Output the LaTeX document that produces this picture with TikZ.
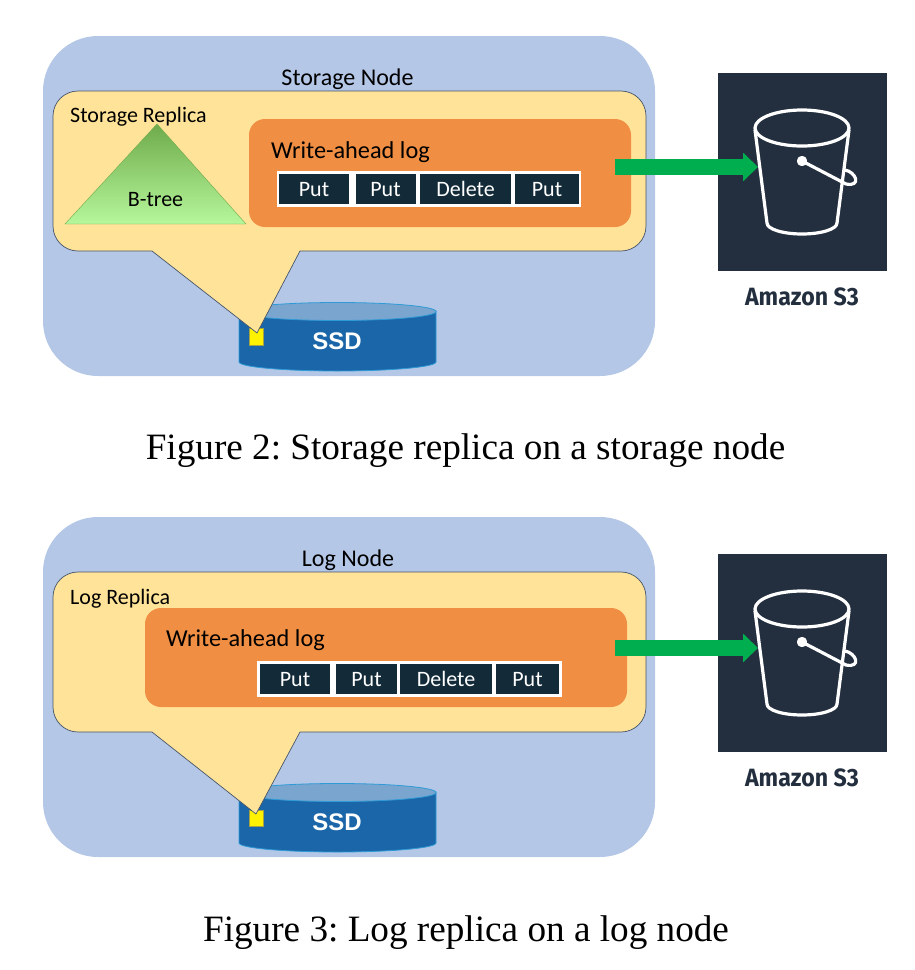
\documentclass[tikz,border=0pt]{standalone}
\usepackage{fontspec}
\setmainfont{Carlito}
\newfontfamily\capfont{Liberation Serif}
\newfontfamily\ssdfont{Liberation Sans}
\newfontfamily\awsfont{Fira Sans}
\usetikzlibrary{arrows.meta}
\definecolor{nodeblue}{HTML}{B4C7E7}
\definecolor{replicayellow}{HTML}{FFE399}
\definecolor{logorange}{HTML}{F08F43}
\definecolor{celldark}{HTML}{132A38}
\definecolor{awsdark}{HTML}{232F3E}
\definecolor{arrowgreen}{HTML}{00AE4F}
\definecolor{ssdblue}{HTML}{1B66A8}
\definecolor{ssdtop}{HTML}{7AA5CE}
\definecolor{ssdedge}{HTML}{2E9BD6}
\definecolor{edgegray}{HTML}{44546A}
\definecolor{treetop}{HTML}{6FAB4C}
\definecolor{treemid}{HTML}{A3DC85}
\definecolor{treebottom}{HTML}{B6F79B}
\tikzset{
    hostbox/.style={fill=nodeblue,rounded corners=55pt,minimum width=612pt,minimum height=340pt,inner sep=0pt},
    replicabox/.style={fill=replicayellow,draw=edgegray,line width=0.7pt,line join=round},
    walbox/.style={fill=logorange,rounded corners=16pt,inner sep=0pt},
    framebox/.style={fill=white,inner sep=0pt,minimum height=36pt},
    cellbox/.style={fill=celldark,text=white,inner sep=0pt,minimum height=30pt,text height=15pt,text depth=1pt,font=\fontsize{22}{24}\selectfont},
    label/.style={inner sep=0pt,text=black,font=\fontsize{22}{24}\selectfont},
    headlabel/.style={inner sep=0pt,text=black,font=\fontsize{24}{26}\selectfont},
    logtitle/.style={inner sep=0pt,text=black,font=\fontsize{24.3}{27}\selectfont},
    s3box/.style={fill=awsdark,minimum width=169pt,minimum height=198pt,inner sep=0pt},
    s3label/.style={inner sep=0pt,text=awsdark,font=\awsfont\bfseries\fontsize{25}{28}\selectfont,xscale=0.925,transform shape},
    bucketline/.style={draw=white,line width=3.2pt,line join=round,line cap=round},
    ssdlabel/.style={inner sep=0pt,text=white,font=\ssdfont\bfseries\fontsize{24}{26}\selectfont},
    pushline/.style={draw=arrowgreen,line width=16pt,-{Triangle[width=28pt,length=15pt,fill=arrowgreen]}},
    caption/.style={inner sep=0pt,font=\capfont\frenchspacing\fontsize{37.2}{40}\selectfont}
}
% #1 is how far down the picture it goes
\newcommand{\drawbucket}[1]{
    \begin{scope}[yshift=#1]
        \draw[bucketline] (802,128) ellipse (47 and 18);
        \draw[bucketline] (755,130) -- (767,223) arc[start angle=180,end angle=0,x radius=35,y radius=11] -- (849,130);
        \draw[bucketline,fill=white] (802,161) circle (3.5);
        \draw[bucketline] (802,161) -- (846,184) .. controls (862,187) and (856,172) .. (845,170);
    \end{scope}
}
\newcommand{\drawssd}[1]{
    \begin{scope}[yshift=#1]
        \draw[fill=ssdblue,draw=ssdedge,line width=0.8pt] (239,311) -- (239,362) arc[start angle=180,end angle=0,x radius=98.5,y radius=9] -- (436,311) -- cycle;
        \draw[fill=ssdtop,draw=ssdedge,line width=0.8pt] (337.5,311.5) ellipse (98.5 and 9);
    \end{scope}
}
% #1 top of the box, #2 its bottom, #3 x and y of the tail's tip
\newcommand{\drawreplica}[3]{
    \draw[replicabox] (78,#1) -- (621,#1) arc[start angle=-90,end angle=0,radius=25]
        -- (646,#2-25) arc[start angle=0,end angle=90,radius=25]
        -- (300,#2) -- (#3) -- (152,#2) -- (78,#2) arc[start angle=90,end angle=180,radius=25]
        -- (53,#1+25) arc[start angle=180,end angle=270,radius=25] -- cycle;
}
\begin{document}
\begin{tikzpicture}[x=1pt,y=-1pt]
    \useasboundingbox (0,0) rectangle (914,970);

    % storage node
    \node[hostbox] (storagehost) at (349,206) {};
    \node[headlabel] (storagetitle) at (347.5,79.5) {Storage Node};
    \drawssd{0pt}
    \node[ssdlabel] (storagessd) at (337,341) {SSD};
    \fill[yellow,draw=yellow!60!black,line width=0.3pt] (249,328) rectangle (263,345);
    \drawreplica{91}{251}{257,333}
    \node[label,anchor=west] (storagereplica) at (70,117) {Storage Replica};
    \shade[top color=treetop,middle color=treemid,bottom color=treebottom,draw=treetop,line width=0.4pt] (157,124) -- (246,224) -- (65,224) -- cycle;
    \node[label] (btree) at (155.5,200) {B-tree};
    \node[walbox,minimum width=382pt,minimum height=108pt] (storagewal) at (440,173) {};
    \node[logtitle,anchor=west] (storagewaltitle) at (271,152) {Write-ahead log};
    \node[framebox,minimum width=304pt] (storageframe) at (429,189) {};
    \node[cellbox,minimum width=70pt] (sput1) at (314,189) {Put};
    \node[cellbox,minimum width=60pt] (sput2) at (385.5,189) {Put};
    \node[cellbox,minimum width=91pt] (sdelete) at (465.5,189) {Delete};
    \node[cellbox,minimum width=64pt] (sput3) at (547,189) {Put};

    % s3 for the storage node
    \node[s3box] (storages3) at (802.5,172) {};
    \drawbucket{0pt}
    \node[s3label] (storages3label) at (802,297) {Amazon S3};
    \coordinate (storageout) at (615,167);
    \coordinate (storagein) at (758,167);
    \draw[pushline] (storageout) -- (storagein);

    \node[caption] (captiontwo) at (465.5,450.5) {Figure 2: Storage replica on a storage node};

    % log node
    \node[hostbox] (loghost) at (349,687) {};
    \node[headlabel] (logtitle) at (348,560.5) {Log Node};
    \drawssd{-481pt}
    \node[ssdlabel] (logssd) at (337,822) {SSD};
    \fill[yellow,draw=yellow!60!black,line width=0.3pt] (249,810) rectangle (263,826);
    \drawreplica{572}{732}{256,814}
    \node[label,anchor=west] (logreplica) at (70,599) {Log Replica};
    \node[walbox,minimum width=482pt,minimum height=99pt] (logwal) at (386,657.5) {};
    \node[logtitle,anchor=west] (logwaltitle) at (166,640) {Write-ahead log};
    \node[framebox,minimum width=305pt] (logframe) at (409.5,679) {};
    \node[cellbox,minimum width=70pt] (lput1) at (295,679) {Put};
    \node[cellbox,minimum width=61pt] (lput2) at (366.5,679) {Put};
    \node[cellbox,minimum width=92pt] (ldelete) at (446,679) {Delete};
    \node[cellbox,minimum width=63pt] (lput3) at (527.5,679) {Put};

    % s3 for the log node
    \node[s3box] (logs3) at (802.5,653) {};
    \drawbucket{-481pt}
    \node[s3label] (logs3label) at (802,778) {Amazon S3};
    \coordinate (logout) at (615,648);
    \coordinate (login) at (758,648);
    \draw[pushline] (logout) -- (login);

    \node[caption] (captionthree) at (466,932.5) {Figure 3: Log replica on a log node};
\end{tikzpicture}
\end{document}
